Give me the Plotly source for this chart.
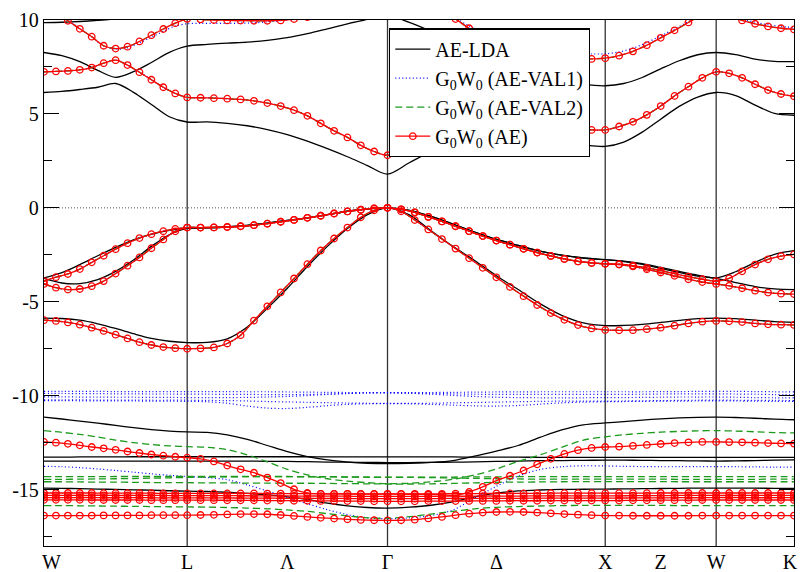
import plotly.graph_objects as go

# ---------------- k-path (high-symmetry points) ----------------
hs_k = [0.0, 0.955, 2.291, 3.743, 4.483, 5.002]          # W  L  Γ  X  W  K
vline_k = [0.955, 2.291, 3.743, 4.483]                    # L  Γ  X  W
tick_k = [0.05, 0.955, 1.623, 2.291, 3.017, 3.743, 4.113, 4.483, 4.975]
tick_text = ['W', 'L', 'Λ', 'Γ', 'Δ', 'X', 'Z', 'W', 'K']
seg_fine = [12, 15, 16, 8, 6]      # k-points per segment, G0W0 (AE) mesh
seg_coarse = [8, 10, 10, 6, 4]     # k-points per segment, other curves

y_tickvals = [-15, -10, -5, 0, 5, 10]
y_ticktext = ['-15', '-10', '-5', '0', '5', '10']


def kpath(nseg):
    ks = [hs_k[0]]
    for i, n in enumerate(nseg):
        a, b = hs_k[i], hs_k[i + 1]
        ks.extend(a + (b - a) * j / n for j in range(1, n + 1))
    return ks


k_fine = kpath(seg_fine)
k_coarse = kpath(seg_coarse)

# ---------------- G0W0 (AE), fine mesh (58 points) ----------------
r_cb2 = [10.6, 10.35, 9.96, 9.53, 9.11, 8.63, 8.48, 8.58, 8.86, 9.19, 9.52, 9.83, 10.06,
         10.03, 10.0, 9.98, 9.97, 9.96, 9.96, 9.98, 10.05, 10.15, None, None, None, None, None, None,
         None, None, None, 10.45, 10.05, 9.56, 9.2, 8.88, 8.6, 8.38, 8.2, 8.07, 7.98, 7.94, 7.93, 7.97,
         8.1, 8.33, 8.66, 9.05, 9.45, 9.87, 10.3, 10.6,
         10.25, 9.98, 9.8, 9.66, 9.56, 9.5]
r_cb1 = [7.24, 7.26, 7.29, 7.35, 7.47, 7.7, 7.86, 7.6, 7.22, 6.82, 6.42, 6.09, 5.88,
         5.86, 5.84, 5.81, 5.77, 5.7, 5.58, 5.42, 5.2, 4.9, 4.5, 4.1, 3.75, 3.33, 3.0, 2.8,
         3.05, 3.38, 3.7, 3.95, 4.12, 4.23, 4.3, 4.33, 4.33, 4.31, 4.28, 4.24, 4.2, 4.17, 4.15, 4.15,
         4.33, 4.58, 4.95, 5.42, 5.96, 6.45, 6.92, 7.24,
         7.16, 6.92, 6.58, 6.27, 6.06, 5.94]
r_vb4 = [-3.9, -3.69, -3.52, -3.26, -2.9, -2.55, -2.2, -1.88, -1.61, -1.4, -1.24, -1.12, -1.05,
         -1.05, -1.04, -1.02, -0.98, -0.92, -0.84, -0.74, -0.64, -0.53, -0.42, -0.3, -0.19, -0.1, -0.03, 0.0,
         -0.08, -0.24, -0.48, -0.72, -0.98, -1.24, -1.5, -1.74, -1.96, -2.18, -2.38, -2.56, -2.72, -2.85, -2.93, -2.98,
         -3.0, -3.07, -3.19, -3.34, -3.5, -3.66, -3.8, -3.9,
         -3.75, -3.38, -3.02, -2.74, -2.57, -2.48]
r_vb3 = [-4.05, -4.25, -4.35, -4.32, -4.17, -3.9, -3.5, -3.08, -2.64, -2.15, -1.68, -1.25, -1.05,
         -1.05, -1.04, -1.02, -0.98, -0.92, -0.84, -0.74, -0.64, -0.53, -0.42, -0.3, -0.19, -0.1, -0.03, 0.0,
         -0.08, -0.24, -0.48, -0.72, -0.98, -1.24, -1.5, -1.74, -1.96, -2.18, -2.38, -2.56, -2.72, -2.85, -2.93, -2.98,
         -3.02, -3.12, -3.27, -3.44, -3.62, -3.8, -3.95, -4.05,
         -4.15, -4.28, -4.41, -4.51, -4.57, -4.59]
r_vb2 = [-5.98, -6.02, -6.1, -6.22, -6.38, -6.55, -6.75, -6.95, -7.15, -7.3, -7.41, -7.47, -7.5,
         -7.48, -7.43, -7.22, -6.78, -6.0, -5.24, -4.5, -3.76, -3.0, -2.27, -1.63, -1.05, -0.5, -0.13, 0.0,
         -0.18, -0.65, -1.15, -1.66, -2.17, -2.68, -3.19, -3.7, -4.21, -4.7, -5.17, -5.6, -5.96, -6.24, -6.42, -6.5,
         -6.52, -6.51, -6.46, -6.38, -6.27, -6.15, -6.06, -6.02,
         -6.04, -6.08, -6.15, -6.2, -6.22, -6.23]
r_sd = [-12.46, -12.5, -12.56, -12.64, -12.73, -12.8, -12.88, -12.97, -13.05, -13.13, -13.19, -13.25, -13.3,
        -13.36, -13.5, -13.72, -13.92, -14.1, -14.36, -14.65, -14.98, -15.18, -15.22, -15.23, -15.23, -15.24, -15.24, -15.24,
        -15.24, -15.25, -15.26, -15.27, -15.3, -15.12, -14.85, -14.52, -14.26, -13.98, -13.65, -13.36, -13.1, -12.9, -12.78, -12.73,
        -12.71, -12.67, -12.62, -12.57, -12.52, -12.48, -12.46, -12.46,
        -12.47, -12.48, -12.5, -12.52, -12.54, -12.55]
r_d1 = [-15.18, -15.18, -15.18, -15.18, -15.18, -15.19, -15.19, -15.19, -15.19, -15.19, -15.2, -15.2, -15.2,
        -15.2, -15.2, -15.2, -15.2, -15.2, -15.21, -15.21, -15.21, -15.21, -15.22, -15.22, -15.22, -15.22, -15.22, -15.22,
        -15.22, -15.22, -15.22, -15.22, -15.21, -15.21, -15.21, -15.2, -15.2, -15.2, -15.2, -15.19, -15.19, -15.19, -15.19, -15.19,
        -15.19, -15.19, -15.19, -15.18, -15.18, -15.18, -15.18, -15.18,
        -15.18, -15.18, -15.18, -15.18, -15.18, -15.18]
r_d2 = [-15.3, -15.3, -15.3, -15.3, -15.3, -15.3, -15.31, -15.31, -15.31, -15.31, -15.31, -15.32, -15.32,
        -15.32, -15.32, -15.32, -15.32, -15.33, -15.33, -15.33, -15.34, -15.34, -15.34, -15.35, -15.35, -15.36, -15.36, -15.36,
        -15.36, -15.36, -15.36, -15.35, -15.35, -15.35, -15.34, -15.34, -15.34, -15.34, -15.33, -15.33, -15.33, -15.33, -15.33, -15.33,
        -15.33, -15.32, -15.32, -15.32, -15.31, -15.31, -15.31, -15.31,
        -15.31, -15.31, -15.31, -15.31, -15.31, -15.31]
r_d3 = [-15.42, -15.42, -15.42, -15.42, -15.42, -15.43, -15.43, -15.43, -15.43, -15.43, -15.44, -15.44, -15.44,
        -15.44, -15.44, -15.44, -15.45, -15.45, -15.45, -15.46, -15.46, -15.46, -15.47, -15.47, -15.47, -15.48, -15.48, -15.48,
        -15.48, -15.48, -15.48, -15.47, -15.47, -15.47, -15.46, -15.46, -15.46, -15.46, -15.45, -15.45, -15.45, -15.45, -15.45, -15.45,
        -15.45, -15.44, -15.44, -15.44, -15.43, -15.43, -15.43, -15.42,
        -15.42, -15.42, -15.43, -15.43, -15.43, -15.43]
r_d4 = [-15.54, -15.54, -15.54, -15.54, -15.55, -15.55, -15.55, -15.55, -15.55, -15.56, -15.56, -15.56, -15.56,
        -15.56, -15.56, -15.57, -15.57, -15.57, -15.58, -15.58, -15.59, -15.59, -15.6, -15.6, -15.61, -15.61, -15.62, -15.62,
        -15.62, -15.62, -15.61, -15.61, -15.61, -15.6, -15.6, -15.6, -15.59, -15.59, -15.59, -15.58, -15.58, -15.58, -15.58, -15.58,
        -15.58, -15.57, -15.57, -15.56, -15.56, -15.56, -15.55, -15.55,
        -15.55, -15.55, -15.55, -15.55, -15.55, -15.55]
r_s = [-16.38, -16.38, -16.38, -16.38, -16.38, -16.37, -16.37, -16.37, -16.37, -16.36, -16.36, -16.36, -16.36,
       -16.35, -16.34, -16.32, -16.3, -16.3, -16.31, -16.35, -16.4, -16.45, -16.5, -16.54, -16.58, -16.61, -16.63, -16.64,
       -16.63, -16.6, -16.53, -16.45, -16.36, -16.28, -16.22, -16.19, -16.18, -16.19, -16.22, -16.26, -16.3, -16.33, -16.36, -16.38,
       -16.38, -16.39, -16.39, -16.39, -16.39, -16.39, -16.38, -16.38,
       -16.38, -16.38, -16.38, -16.38, -16.38, -16.38]

# G0W0 (AE-VAL1) upper conduction band where it separates from the AE curve (fine mesh)
v1_cb2 = [10.6, 10.35, 9.98, 9.55, 9.1, 8.62, 8.45, 8.52, 8.78, 9.08, 9.4, 9.68, 9.8,
          9.82, 9.82, 9.82, 9.83, 9.85, 9.9, 9.97, 10.05, 10.15, None, None, None, None, None, None,
          None, None, None, 10.5, 10.1, 9.68, 9.32, 9.02, 8.76, 8.56, 8.42, 8.31, 8.24, 8.2, 8.19, 8.2,
          8.3, 8.5, 8.8, 9.16, 9.52, 9.92, 10.3, 10.6,
          10.3, 10.05, 9.88, 9.75, 9.66, 9.6]

# ---------------- AE-LDA, coarse mesh (39 points) ----------------
b_cb3 = [9.86, 9.88, 9.92, 9.98, 10.06, 10.2, None, None, None,
         None, None, None, None, None, None, None, None, None, None,
         None, None, None, None, None, None, None, None, None, None,
         None, None, None, None, None, None,
         None, None, None, None]
b_cb2 = [8.27, 8.1, 7.78, 7.32, 6.95, 7.25, 7.74, 8.28, 8.61,
         8.7, 8.77, 8.82, 8.92, 9.06, 9.27, 9.53, 9.8, 10.03, 10.25,
         9.87, 9.4, 8.9, 8.4, 7.9, 7.45, 7.05, 6.75, 6.57, 6.5,
         6.62, 6.94, 7.4, 7.83, 8.15, 8.27,
         8.16, 7.92, 7.8, 7.78]
b_cb1 = [6.14, 6.2, 6.3, 6.42, 6.62, 6.15, 5.5, 4.85, 4.57,
         4.58, 4.5, 4.37, 4.17, 3.9, 3.55, 3.15, 2.72, 2.25, 1.8,
         2.4, 3.0, 3.5, 3.8, 3.9, 3.85, 3.7, 3.5, 3.35, 3.27,
         3.5, 4.03, 4.72, 5.4, 5.9, 6.14,
         5.98, 5.47, 5.03, 4.93]
b_vb4 = [-3.73, -3.45, -3.02, -2.55, -2.1, -1.7, -1.4, -1.2, -1.09,
         -1.07, -1.02, -0.94, -0.81, -0.67, -0.53, -0.36, -0.18, -0.05, 0.0,
         -0.13, -0.45, -0.86, -1.29, -1.68, -2.0, -2.3, -2.52, -2.67, -2.76,
         -2.84, -2.97, -3.17, -3.38, -3.58, -3.73,
         -3.4, -2.9, -2.47, -2.28]
b_vb3 = [-3.75, -4.0, -4.03, -3.82, -3.38, -2.78, -2.05, -1.43, -1.09,
         -1.07, -1.02, -0.94, -0.81, -0.67, -0.53, -0.36, -0.18, -0.05, 0.0,
         -0.13, -0.45, -0.86, -1.29, -1.68, -2.0, -2.3, -2.52, -2.67, -2.76,
         -2.86, -3.01, -3.22, -3.44, -3.63, -3.75,
         -3.98, -4.19, -4.31, -4.35]
b_vb2 = [-5.87, -5.89, -5.98, -6.17, -6.42, -6.7, -6.95, -7.1, -7.17,
         -7.16, -6.97, -6.34, -5.35, -4.28, -3.12, -2.05, -1.1, -0.36, 0.0,
         -0.37, -1.22, -2.05, -2.8, -3.61, -4.35, -5.1, -5.72, -6.12, -6.27,
         -6.26, -6.2, -6.1, -5.99, -5.9, -5.87,
         -5.9, -5.98, -6.06, -6.1]
b_sd = [-11.14, -11.24, -11.35, -11.46, -11.58, -11.7, -11.8, -11.88, -11.93,
        -11.95, -12.08, -12.32, -12.65, -12.98, -13.24, -13.42, -13.53, -13.6, -13.62,
        -13.6, -13.55, -13.45, -13.22, -12.95, -12.65, -12.22, -11.82, -11.55, -11.45,
        -11.38, -11.3, -11.23, -11.18, -11.15, -11.14,
        -11.16, -11.2, -11.25, -11.28]
b_d1 = [-13.27, -13.27, -13.26, -13.26, -13.26, -13.25, -13.25, -13.25, -13.25,
        -13.25, -13.25, -13.25, -13.25, -13.25, -13.25, -13.26, -13.26, -13.26, -13.26,
        -13.26, -13.26, -13.26, -13.27, -13.27, -13.27, -13.28, -13.28, -13.28, -13.28,
        -13.28, -13.28, -13.28, -13.28, -13.28, -13.28,
        -13.28, -13.28, -13.28, -13.28]
b_d2 = [-13.48, -13.48, -13.48, -13.48, -13.48, -13.48, -13.48, -13.48, -13.48,
        -13.48, -13.48, -13.48, -13.49, -13.5, -13.51, -13.53, -13.54, -13.55, -13.56,
        -13.56, -13.55, -13.54, -13.52, -13.5, -13.48, -13.46, -13.45, -13.44, -13.43,
        -13.43, -13.44, -13.45, -13.46, -13.47, -13.48,
        -13.47, -13.45, -13.43, -13.42]
b_d3 = [-14.92, -14.93, -14.95, -14.97, -14.99, -15.01, -15.03, -15.06, -15.08,
        -15.1, -15.14, -15.2, -15.28, -15.38, -15.52, -15.72, -15.86, -15.95, -15.98,
        -15.93, -15.83, -15.65, -15.38, -15.18, -15.07, -15.02, -14.99, -14.98, -14.97,
        -14.96, -14.95, -14.94, -14.93, -14.92, -14.92,
        -14.92, -14.92, -14.93, -14.93]

# ---------------- G0W0 (AE-VAL2), coarse mesh ----------------
g_sd = [-11.86, -11.95, -12.06, -12.2, -12.36, -12.5, -12.6, -12.67, -12.71,
        -12.75, -12.87, -13.15, -13.52, -13.92, -14.22, -14.42, -14.55, -14.63, -14.68,
        -14.66, -14.58, -14.45, -14.22, -13.9, -13.5, -13.15, -12.75, -12.36, -12.19,
        -12.08, -12.0, -11.94, -11.9, -11.87, -11.86,
        -11.88, -11.92, -11.96, -11.98]
g_d1 = [-14.31, -14.31, -14.31, -14.31, -14.3, -14.3, -14.3, -14.3, -14.3,
        -14.3, -14.3, -14.3, -14.3, -14.3, -14.31, -14.31, -14.32, -14.33, -14.33,
        -14.33, -14.33, -14.33, -14.32, -14.32, -14.31, -14.31, -14.31, -14.31, -14.31,
        -14.31, -14.31, -14.31, -14.31, -14.31, -14.31,
        -14.31, -14.31, -14.31, -14.31]
g_d2 = [-14.45, -14.45, -14.44, -14.43, -14.42, -14.41, -14.39, -14.37, -14.35,
        -14.33, -14.32, -14.31, -14.31, -14.31, -14.32, -14.32, -14.33, -14.34, -14.35,
        -14.35, -14.36, -14.38, -14.4, -14.42, -14.43, -14.44, -14.44, -14.44, -14.44,
        -14.44, -14.44, -14.44, -14.45, -14.45, -14.45,
        -14.45, -14.45, -14.44, -14.44]
g_d3 = [-14.58, -14.58, -14.59, -14.6, -14.6, -14.61, -14.62, -14.63, -14.63,
        -14.64, -14.64, -14.65, -14.65, -14.66, -14.66, -14.67, -14.68, -14.69, -14.7,
        -14.7, -14.69, -14.67, -14.64, -14.61, -14.6, -14.59, -14.58, -14.57, -14.57,
        -14.57, -14.57, -14.57, -14.58, -14.58, -14.58,
        -14.58, -14.58, -14.58, -14.58]
g_d4 = [-15.85, -15.85, -15.86, -15.87, -15.88, -15.89, -15.9, -15.91, -15.92,
        -15.93, -15.95, -15.98, -16.02, -16.08, -16.16, -16.28, -16.4, -16.5, -16.52,
        -16.44, -16.3, -16.16, -16.02, -15.94, -15.9, -15.87, -15.85, -15.84, -15.84,
        -15.84, -15.84, -15.84, -15.85, -15.85, -15.85,
        -15.85, -15.85, -15.85, -15.85]

# ---------------- G0W0 (AE-VAL1), coarse mesh ----------------
v_s = [-13.76, -13.78, -13.83, -13.9, -13.98, -14.07, -14.16, -14.24, -14.3,
       -14.36, -14.47, -14.75, -15.07, -15.42, -15.75, -16.07, -16.33, -16.5, -16.55,
       -16.5, -16.38, -16.08, -15.45, -14.82, -14.28, -13.93, -13.78, -13.73, -13.74,
       -13.76, -13.77, -13.78, -13.78, -13.78, -13.78,
       -13.78, -13.79, -13.8, -13.8]
v_d1 = [-9.77, -9.77, -9.77, -9.77, -9.78, -9.78, -9.78, -9.78, -9.78,
        -9.78, -9.78, -9.79, -9.79, -9.8, -9.81, -9.82, -9.83, -9.84, -9.84,
        -9.84, -9.83, -9.82, -9.81, -9.8, -9.8, -9.79, -9.79, -9.79, -9.79,
        -9.79, -9.79, -9.78, -9.78, -9.77, -9.77,
        -9.77, -9.78, -9.79, -9.8]
v_d2 = [-9.88, -9.88, -9.89, -9.89, -9.9, -9.9, -9.91, -9.91, -9.92,
        -9.92, -9.93, -9.93, -9.94, -9.94, -9.93, -9.91, -9.88, -9.85, -9.84,
        -9.85, -9.87, -9.9, -9.92, -9.93, -9.93, -9.93, -9.93, -9.93, -9.93,
        -9.93, -9.92, -9.91, -9.9, -9.9, -9.9,
        -9.91, -9.92, -9.94, -9.95]
v_d3 = [-10.06, -10.06, -10.07, -10.07, -10.08, -10.08, -10.09, -10.09, -10.1,
        -10.1, -10.1, -10.09, -10.07, -10.04, -9.99, -9.93, -9.88, -9.85, -9.85,
        -9.87, -9.92, -9.98, -10.04, -10.08, -10.1, -10.11, -10.11, -10.11, -10.1,
        -10.1, -10.09, -10.08, -10.07, -10.07, -10.07,
        -10.08, -10.1, -10.11, -10.12]
v_d4 = [-10.22, -10.22, -10.22, -10.23, -10.23, -10.23, -10.24, -10.24, -10.24,
        -10.25, -10.26, -10.28, -10.31, -10.33, -10.35, -10.37, -10.39, -10.4, -10.41,
        -10.41, -10.4, -10.38, -10.36, -10.34, -10.32, -10.3, -10.29, -10.29, -10.29,
        -10.28, -10.27, -10.26, -10.25, -10.24, -10.24,
        -10.24, -10.25, -10.25, -10.26]
v_d5 = [-10.26, -10.26, -10.27, -10.27, -10.28, -10.28, -10.29, -10.29, -10.3,
        -10.32, -10.4, -10.55, -10.66, -10.68, -10.62, -10.53, -10.46, -10.43, -10.42,
        -10.43, -10.46, -10.5, -10.54, -10.55, -10.52, -10.45, -10.38, -10.34, -10.32,
        -10.31, -10.3, -10.29, -10.29, -10.28, -10.28,
        -10.28, -10.29, -10.3, -10.3]

# band groups per series: (k mesh, list of bands)
lda_bands = (k_coarse, [b_cb3, b_cb2, b_cb1, b_vb4, b_vb3, b_vb2, b_sd, b_d1, b_d2, b_d3])
val1_bands = [(k_fine, [v1_cb2, r_cb1, r_vb4, r_vb3, r_vb2]),
              (k_coarse, [v_d1, v_d2, v_d3, v_d4, v_d5, v_s])]
val2_bands = [(k_fine, [r_cb2, r_cb1, r_vb4, r_vb3, r_vb2]),
              (k_coarse, [g_sd, g_d1, g_d2, g_d3, g_d4])]
ae_bands = (k_fine, [r_cb2, r_cb1, r_vb4, r_vb3, r_vb2, r_sd, r_d1, r_d2, r_d3, r_d4, r_s])

for ks, bands in [lda_bands, ae_bands] + val1_bands + val2_bands:
    for b in bands:
        assert len(b) == len(ks), (len(b), len(ks))

SERIF = 'Liberation Serif'
fig = go.Figure()


def add_series(groups, name, line, marker=None):
    first = True
    for ks, bands in groups:
        for b in bands:
            fig.add_trace(go.Scatter(
                x=ks, y=b, name=name, legendgroup=name, showlegend=first,
                mode='lines+markers' if marker else 'lines',
                line=dict(shape='spline', smoothing=0.9, **line),
                marker=marker, connectgaps=False, hoverinfo='skip'))
            first = False


add_series([lda_bands], 'AE-LDA', dict(color='black', width=1.3))
add_series(val1_bands, 'G<sub>0</sub>W<sub>0</sub> (AE-VAL1)',
           dict(color='#0000ff', width=1.2, dash='1px,2.5px'))
add_series(val2_bands, 'G<sub>0</sub>W<sub>0</sub> (AE-VAL2)',
           dict(color='#1c9a1c', width=1.3, dash='7px,4px'))
add_series([ae_bands], 'G<sub>0</sub>W<sub>0</sub> (AE)',
           dict(color='red', width=1.3),
           marker=dict(symbol='circle-open', size=6.5, color='red', line=dict(width=1.3, color='red')))

shapes = []
for kv in vline_k:
    shapes.append(dict(type='line', xref='x', yref='paper', x0=kv, x1=kv, y0=0, y1=1,
                       line=dict(color='#333333', width=1.3), layer='below'))
shapes.append(dict(type='line', xref='paper', yref='y', x0=0, x1=1, y0=0, y1=0,
                   line=dict(color='#555555', width=1, dash='1px,2px'), layer='below'))

fig.update_layout(
    width=800, height=572,
    margin=dict(l=44, r=6, t=20, b=26, autoexpand=False),
    paper_bgcolor='white', plot_bgcolor='white',
    font=dict(family=SERIF, size=20, color='black'),
    shapes=shapes,
    showlegend=True,
    legend=dict(x=0.46, y=0.984, xanchor='left', yanchor='top',
                bgcolor='white', bordercolor='black', borderwidth=1.3,
                font=dict(family=SERIF, size=20, color='black'),
                tracegroupgap=0, itemwidth=35),
)
fig.update_xaxes(range=[hs_k[0], hs_k[-1]], tickmode='array', tickvals=tick_k, ticktext=tick_text,
                 ticks='', showline=True, mirror=True, linecolor='black', linewidth=1.3,
                 showgrid=False, zeroline=False, tickfont=dict(family=SERIF, size=20),
                 ticklabelstandoff=-2)
fig.update_yaxes(range=[-18, 10], tickmode='array', tickvals=y_tickvals, ticktext=y_ticktext,
                 ticks='inside', ticklen=15, tickwidth=1.3, tickcolor='black',
                 minor=dict(tickmode='linear', tick0=0, dtick=2.5, ticks='inside', ticklen=7.5,
                            tickwidth=1.3, tickcolor='black'),
                 showline=True, mirror='ticks', linecolor='black', linewidth=1.3,
                 showgrid=False, zeroline=False, tickfont=dict(family=SERIF, size=20))

fig.write_html('out.html', config={'displayModeBar': False},
               post_script="document.body.style.margin='0px';")
